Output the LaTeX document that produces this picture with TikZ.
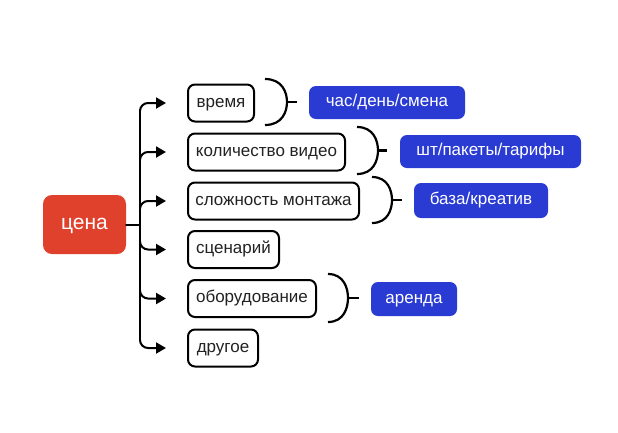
\documentclass[tikz,border=0pt]{standalone}
\usepackage{fontspec}
\setmainfont{Liberation Sans}
\usetikzlibrary{arrows.meta}
\definecolor{cred}{HTML}{DF412D}
\definecolor{cblue}{HTML}{2A3BD3}
\definecolor{ctext}{HTML}{222222}
\begin{document}
\begin{tikzpicture}[x=1pt,y=-1pt,
  item/.style={draw=black, line width=2pt, rounded corners=7pt, minimum height=37pt, inner sep=0pt, text height=8.8pt, text depth=0pt, text=ctext, font=\fontsize{17}{20}\selectfont, anchor=west},
  tag/.style={fill=cblue, rounded corners=7pt, minimum height=34pt, inner sep=0pt, text height=8.8pt, text depth=0pt, text=white, font=\fontsize{17}{20}\selectfont},
  root/.style={fill=cred, rounded corners=9pt, minimum width=83pt, minimum height=59pt, inner sep=0pt, text height=10.9pt, text depth=0pt, text=white, font=\fontsize{21}{24}\selectfont},
  conn/.style={line width=2pt, line cap=round, black},
  arr/.style={conn, -{Triangle[length=10pt,width=11pt]}},
  brace/.style={line width=2.2pt, black}
]
\useasboundingbox (0,0) rectangle (618,432);
\fill[white] (0,0) rectangle (618,432);

\node[root] (price) at (84.5,224.5) {цена};

\node[item, minimum width=66pt] (b1) at (187,103) {время};
\node[item, minimum width=157pt] (b2) at (187,152) {количество видео};
\node[item, minimum width=171pt] (b3) at (187,201) {сложность монтажа};
\node[item, minimum width=91pt] (b4) at (187,249.5) {сценарий};
\node[item, minimum width=128pt] (b5) at (187,298.5) {оборудование};
\node[item, minimum width=70pt] (b6) at (187,348) {другое};

\node[tag, minimum width=156pt, minimum height=33pt] (t1) at (387,102.5) {час/день/смена};
\node[tag, minimum width=181pt, minimum height=33pt] (t2) at (490.5,151.5) {шт/пакеты/тарифы};
\node[tag, minimum width=134pt, minimum height=35pt] (t3) at (481,200.5) {база/креатив};
\node[tag, minimum width=86pt, minimum height=34pt] (t4) at (414,299) {аренда};

% trunk
\coordinate (j) at (140,224.5);
\draw[conn] (price.east) -- (j);
\draw[conn] (140,110) -- (140,340);
% branches
\foreach \n/\y/\s in {b1/103/1,b2/152/1,b3/201/1,b4/249.5/-1,b5/298.5/-1,b6/348/-1}{
  \draw[arr] (140,\y+8*\s) arc[start angle=180, end angle={180-90*\s}, radius=8pt] -- ([xshift=-21pt]\n.west);
}

% braces
\newcommand{\mybrace}[5]{% x0, xp, ytop, ybot, tickend
  \draw[brace] (#1,#3) .. controls ({#1+0.8*(#2-#1)},#3) and (#2,{#3+0.3*(#4-#3)}) .. (#2,{(#3+#4)/2})
     .. controls (#2,{#4-0.3*(#4-#3)}) and ({#1+0.8*(#2-#1)},#4) .. (#1,#4);
  \draw[brace] (#2,{(#3+#4)/2}) -- (#5,{(#3+#4)/2});
}
\mybrace{265}{287}{79}{125}{297}
\mybrace{357}{378}{127}{174}{387}
\mybrace{372}{392}{177}{223}{402}
\mybrace{328}{348}{274}{322}{359}
\end{tikzpicture}
\end{document}
